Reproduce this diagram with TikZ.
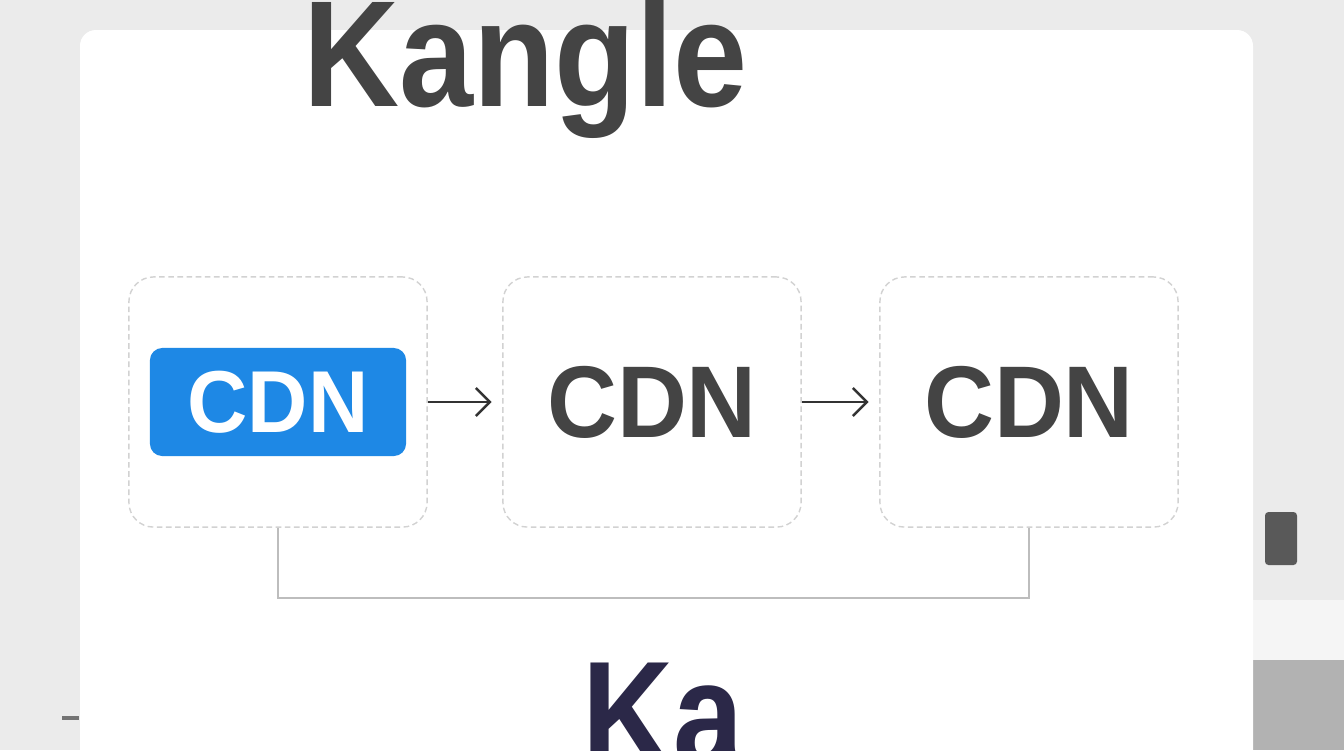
\documentclass[tikz,border=0pt]{standalone}
\usepackage{fontspec}
\setmainfont{Liberation Sans}
\usetikzlibrary{arrows.meta}

\definecolor{pagebg}{HTML}{EBEBEB}
\definecolor{ink}{HTML}{444444}
\definecolor{arrowink}{HTML}{333333}
\definecolor{cdnblue}{HTML}{1E88E5}
\definecolor{navy}{HTML}{2B2848}
\definecolor{dashgray}{HTML}{D2D2D2}
\definecolor{linkgray}{HTML}{BDBDBD}

\begin{document}
\begin{tikzpicture}[x=0.01cm,y=-0.01cm,>={Straight Barb[length=4pt,width=8pt]}, % pixel grid, open arrowheads
  box/.style={draw=dashgray,dash pattern=on 1.6pt off 1pt,line width=0.4pt,rounded corners=7pt,
    minimum width=2.98cm,minimum height=2.5cm,fill=white},
  pill/.style={fill=cdnblue,rounded corners=3.5pt,minimum width=2.56cm,minimum height=1.08cm,
    text=white,font=\bfseries\fontsize{25pt}{30pt}\selectfont},
  cdn/.style={text=ink,font=\bfseries\fontsize{29pt}{34pt}\selectfont},
  link/.style={draw=linkgray,line width=0.5pt}]

  \useasboundingbox (0,0) rectangle (1344,750);
  \clip (0,0) rectangle (1344,750);

  % backdrop and card
  \fill[pagebg] (0,0) rectangle (1344,750);
  \fill[white!96!black] (1253,600) rectangle (1344,660);
  \fill[black!30] (1253,660) rectangle (1344,750);
  \fill[black!65,rounded corners=1pt] (1265,512) rectangle (1297,565);
  \draw[black!55,line width=1.4pt] (62,718) -- (79,718);
  \fill[white,rounded corners=4.5pt] (80,30) rectangle (1253,800);

  \node[anchor=base west,text=ink,font=\bfseries\fontsize{43pt}{50pt}\selectfont](title) at (291,106) {\scalebox{0.88}[1]{Kangle}};

  \node[box](b1) at (278,402) {};
  \node[box,cdn](b2) at (652,402) {\scalebox{0.95}[1]{CDN}};
  \node[box,cdn](b3) at (1029,402) {\scalebox{0.95}[1]{CDN}};
  \node[pill](p1) at (b1.center) {\scalebox{0.95}[1]{CDN}};

  \draw[->,arrowink,line width=0.7pt,shorten >=3pt] (b1) -- (b2);
  \draw[->,arrowink,line width=0.7pt,shorten >=3pt] (b2) -- (b3);
  \draw[link] (b1.south) -- ++(0,70) -| (b3.south);

  \node[anchor=base west,text=navy,font=\bfseries\fontsize{43.2pt}{50pt}\selectfont](sub) at (570,767) {\scalebox{0.83}[1]{Ka}};

\end{tikzpicture}
\end{document}
